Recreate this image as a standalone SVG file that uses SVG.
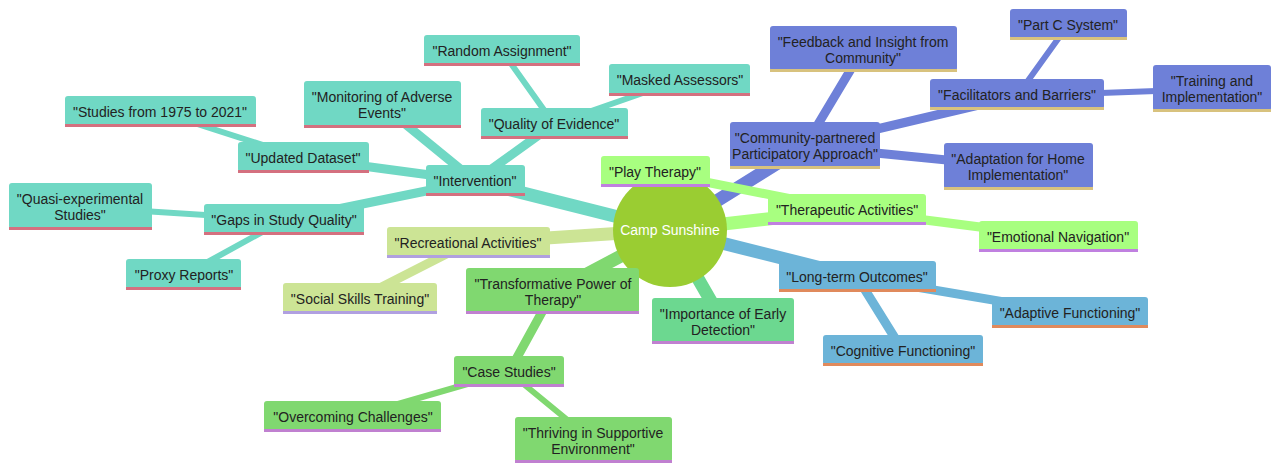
<svg xmlns="http://www.w3.org/2000/svg" width="1280" height="472" viewBox="0 0 1280 472">
<style>
text{font-family:"Liberation Sans",Arial,sans-serif;font-size:14px;fill:#222;text-anchor:middle}
line{stroke-linecap:round}
.s1 rect.b{fill:#70d8c4}.s1 rect.u{fill:#d4707f}.s1e{stroke:#70d8c4}
.s2 rect.b{fill:#6e80d8}.s2 rect.u{fill:#d8c27e}.s2e{stroke:#6e80d8}
.s3 rect.b{fill:#a8ff80}.s3 rect.u{fill:#c080e0}.s3e{stroke:#a8ff80}
.s4 rect.b{fill:#6cb4d8}.s4 rect.u{fill:#e08a5c}.s4e{stroke:#6cb4d8}
.s5 rect.b{fill:#6cd890}.s5 rect.u{fill:#c080d0}.s5e{stroke:#6cd890}
.s6 rect.b{fill:#80d870}.s6 rect.u{fill:#c080d0}.s6e{stroke:#80d870}
.s7 rect.b{fill:#cce495}.s7 rect.u{fill:#b0a0e0}.s7e{stroke:#cce495}
.d1{stroke-width:13}.d2{stroke-width:9}.d3{stroke-width:6}
</style>
<g id="connectors" fill="none">
<line class="s1e d1" x1="670" y1="230" x2="475" y2="181"/>
<line class="s1e d2" x1="475" y1="181" x2="303" y2="158"/>
<line class="s1e d3" x1="303" y1="158" x2="160" y2="112"/>
<line class="s1e d2" x1="475" y1="181" x2="382" y2="105"/>
<line class="s1e d2" x1="475" y1="181" x2="554" y2="124"/>
<line class="s1e d3" x1="554" y1="124" x2="502" y2="51"/>
<line class="s1e d3" x1="554" y1="124" x2="680" y2="80"/>
<line class="s1e d2" x1="475" y1="181" x2="284" y2="220"/>
<line class="s1e d3" x1="284" y1="220" x2="80" y2="207"/>
<line class="s1e d3" x1="284" y1="220" x2="184" y2="275"/>
<line class="s2e d1" x1="670" y1="230" x2="805" y2="146"/>
<line class="s2e d2" x1="805" y1="146" x2="863" y2="49"/>
<line class="s2e d2" x1="805" y1="146" x2="1017" y2="96"/>
<line class="s2e d3" x1="1017" y1="96" x2="1068" y2="25"/>
<line class="s2e d3" x1="1017" y1="96" x2="1212" y2="89"/>
<line class="s2e d2" x1="805" y1="146" x2="1018" y2="167"/>
<line class="s3e d1" x1="670" y1="230" x2="655" y2="172"/>
<line class="s3e d1" x1="670" y1="230" x2="847" y2="210"/>
<line class="s3e d2" x1="655" y1="172" x2="847" y2="210"/>
<line class="s3e d2" x1="847" y1="210" x2="1058" y2="237"/>
<line class="s4e d1" x1="670" y1="230" x2="857" y2="277"/>
<line class="s4e d2" x1="857" y1="277" x2="1070" y2="313"/>
<line class="s4e d2" x1="857" y1="277" x2="903" y2="351"/>
<line class="s5e d1" x1="670" y1="230" x2="723" y2="322"/>
<line class="s6e d1" x1="670" y1="230" x2="553" y2="292"/>
<line class="s6e d2" x1="553" y1="292" x2="509" y2="372"/>
<line class="s6e d3" x1="509" y1="372" x2="353" y2="417"/>
<line class="s6e d3" x1="509" y1="372" x2="593" y2="441"/>
<line class="s7e d1" x1="670" y1="230" x2="468" y2="243"/>
<line class="s7e d2" x1="468" y1="243" x2="360" y2="298"/>
</g>
<g id="root"><circle cx="670" cy="230" r="57" fill="#9acd32"/><text x="670" y="235" style="fill:#fff">Camp Sunshine</text></g>
<g id="intervention" class="s1"><rect class="b" x="426" y="165" width="99" height="30" rx="3"/><rect class="u" x="426" y="193" width="99" height="3"/><text x="475" y="186">"Intervention"</text></g>
<g id="updated" class="s1"><rect class="b" x="238" y="142" width="131" height="30" rx="3"/><rect class="u" x="238" y="170" width="131" height="3"/><text x="303" y="163">"Updated Dataset"</text></g>
<g id="studies" class="s1"><rect class="b" x="65" y="96" width="191" height="30" rx="3"/><rect class="u" x="65" y="124" width="191" height="3"/><text x="160" y="117">"Studies from 1975 to 2021"</text></g>
<g id="monitoring" class="s1"><rect class="b" x="304" y="81" width="157" height="46" rx="3"/><rect class="u" x="304" y="125" width="157" height="3"/><text x="382" y="102">"Monitoring of Adverse</text><text x="382" y="118">Events"</text></g>
<g id="quality" class="s1"><rect class="b" x="481" y="108" width="147" height="30" rx="3"/><rect class="u" x="481" y="136" width="147" height="3"/><text x="554" y="129">"Quality of Evidence"</text></g>
<g id="random" class="s1"><rect class="b" x="424" y="35" width="156" height="30" rx="3"/><rect class="u" x="424" y="63" width="156" height="3"/><text x="502" y="56">"Random Assignment"</text></g>
<g id="masked" class="s1"><rect class="b" x="609" y="64" width="141" height="31" rx="3"/><rect class="u" x="609" y="93" width="141" height="3"/><text x="680" y="85">"Masked Assessors"</text></g>
<g id="gaps" class="s1"><rect class="b" x="204" y="204" width="160" height="30" rx="3"/><rect class="u" x="204" y="232" width="160" height="3"/><text x="284" y="225">"Gaps in Study Quality"</text></g>
<g id="quasi" class="s1"><rect class="b" x="9" y="183" width="143" height="46" rx="3"/><rect class="u" x="9" y="227" width="143" height="3"/><text x="80" y="204">"Quasi-experimental</text><text x="80" y="220">Studies"</text></g>
<g id="proxy" class="s1"><rect class="b" x="126" y="259" width="115" height="30" rx="3"/><rect class="u" x="126" y="287" width="115" height="3"/><text x="184" y="280">"Proxy Reports"</text></g>
<g id="community" class="s2"><rect class="b" x="730" y="122" width="150" height="46" rx="3"/><rect class="u" x="730" y="166" width="150" height="3"/><text x="805" y="143">"Community-partnered</text><text x="805" y="159">Participatory Approach"</text></g>
<g id="feedback" class="s2"><rect class="b" x="770" y="26" width="187" height="45" rx="3"/><rect class="u" x="770" y="69" width="187" height="3"/><text x="863" y="47">"Feedback and Insight from</text><text x="863" y="63">Community"</text></g>
<g id="facilitators" class="s2"><rect class="b" x="930" y="79" width="174" height="30" rx="3"/><rect class="u" x="930" y="107" width="174" height="3"/><text x="1017" y="100">"Facilitators and Barriers"</text></g>
<g id="partc" class="s2"><rect class="b" x="1010" y="9" width="117" height="30" rx="3"/><rect class="u" x="1010" y="37" width="117" height="3"/><text x="1068" y="30">"Part C System"</text></g>
<g id="training" class="s2"><rect class="b" x="1153" y="65" width="118" height="46" rx="3"/><rect class="u" x="1153" y="109" width="118" height="3"/><text x="1212" y="86">"Training and</text><text x="1212" y="102">Implementation"</text></g>
<g id="adaptation" class="s2"><rect class="b" x="944" y="143" width="149" height="46" rx="3"/><rect class="u" x="944" y="187" width="149" height="3"/><text x="1018" y="164">"Adaptation for Home</text><text x="1018" y="180">Implementation"</text></g>
<g id="play" class="s3"><rect class="b" x="601" y="156" width="109" height="30" rx="3"/><rect class="u" x="601" y="184" width="109" height="3"/><text x="655" y="177">"Play Therapy"</text></g>
<g id="therapeutic" class="s3"><rect class="b" x="768" y="194" width="158" height="30" rx="3"/><rect class="u" x="768" y="222" width="158" height="3"/><text x="847" y="215">"Therapeutic Activities"</text></g>
<g id="emotional" class="s3"><rect class="b" x="979" y="221" width="159" height="30" rx="3"/><rect class="u" x="979" y="249" width="159" height="3"/><text x="1058" y="242">"Emotional Navigation"</text></g>
<g id="longterm" class="s4"><rect class="b" x="779" y="261" width="157" height="30" rx="3"/><rect class="u" x="779" y="289" width="157" height="3"/><text x="857" y="282">"Long-term Outcomes"</text></g>
<g id="adaptive" class="s4"><rect class="b" x="992" y="297" width="156" height="30" rx="3"/><rect class="u" x="992" y="325" width="156" height="3"/><text x="1070" y="318">"Adaptive Functioning"</text></g>
<g id="cognitive" class="s4"><rect class="b" x="823" y="335" width="160" height="30" rx="3"/><rect class="u" x="823" y="363" width="160" height="3"/><text x="903" y="356">"Cognitive Functioning"</text></g>
<g id="early" class="s5"><rect class="b" x="652" y="298" width="142" height="45" rx="3"/><rect class="u" x="652" y="341" width="142" height="3"/><text x="723" y="319">"Importance of Early</text><text x="723" y="335">Detection"</text></g>
<g id="transformative" class="s6"><rect class="b" x="466" y="268" width="173" height="45" rx="3"/><rect class="u" x="466" y="311" width="173" height="3"/><text x="553" y="289">"Transformative Power of</text><text x="553" y="305">Therapy"</text></g>
<g id="case" class="s6"><rect class="b" x="454" y="356" width="110" height="30" rx="3"/><rect class="u" x="454" y="384" width="110" height="3"/><text x="509" y="377">"Case Studies"</text></g>
<g id="overcoming" class="s6"><rect class="b" x="264" y="401" width="177" height="30" rx="3"/><rect class="u" x="264" y="429" width="177" height="3"/><text x="353" y="422">"Overcoming Challenges"</text></g>
<g id="thriving" class="s6"><rect class="b" x="515" y="417" width="157" height="45" rx="3"/><rect class="u" x="515" y="460" width="157" height="3"/><text x="593" y="438">"Thriving in Supportive</text><text x="593" y="454">Environment"</text></g>
<g id="recreational" class="s7"><rect class="b" x="387" y="227" width="163" height="30" rx="3"/><rect class="u" x="387" y="255" width="163" height="3"/><text x="468" y="248">"Recreational Activities"</text></g>
<g id="social" class="s7"><rect class="b" x="283" y="283" width="154" height="30" rx="3"/><rect class="u" x="283" y="311" width="154" height="3"/><text x="360" y="304">"Social Skills Training"</text></g>
</svg>
